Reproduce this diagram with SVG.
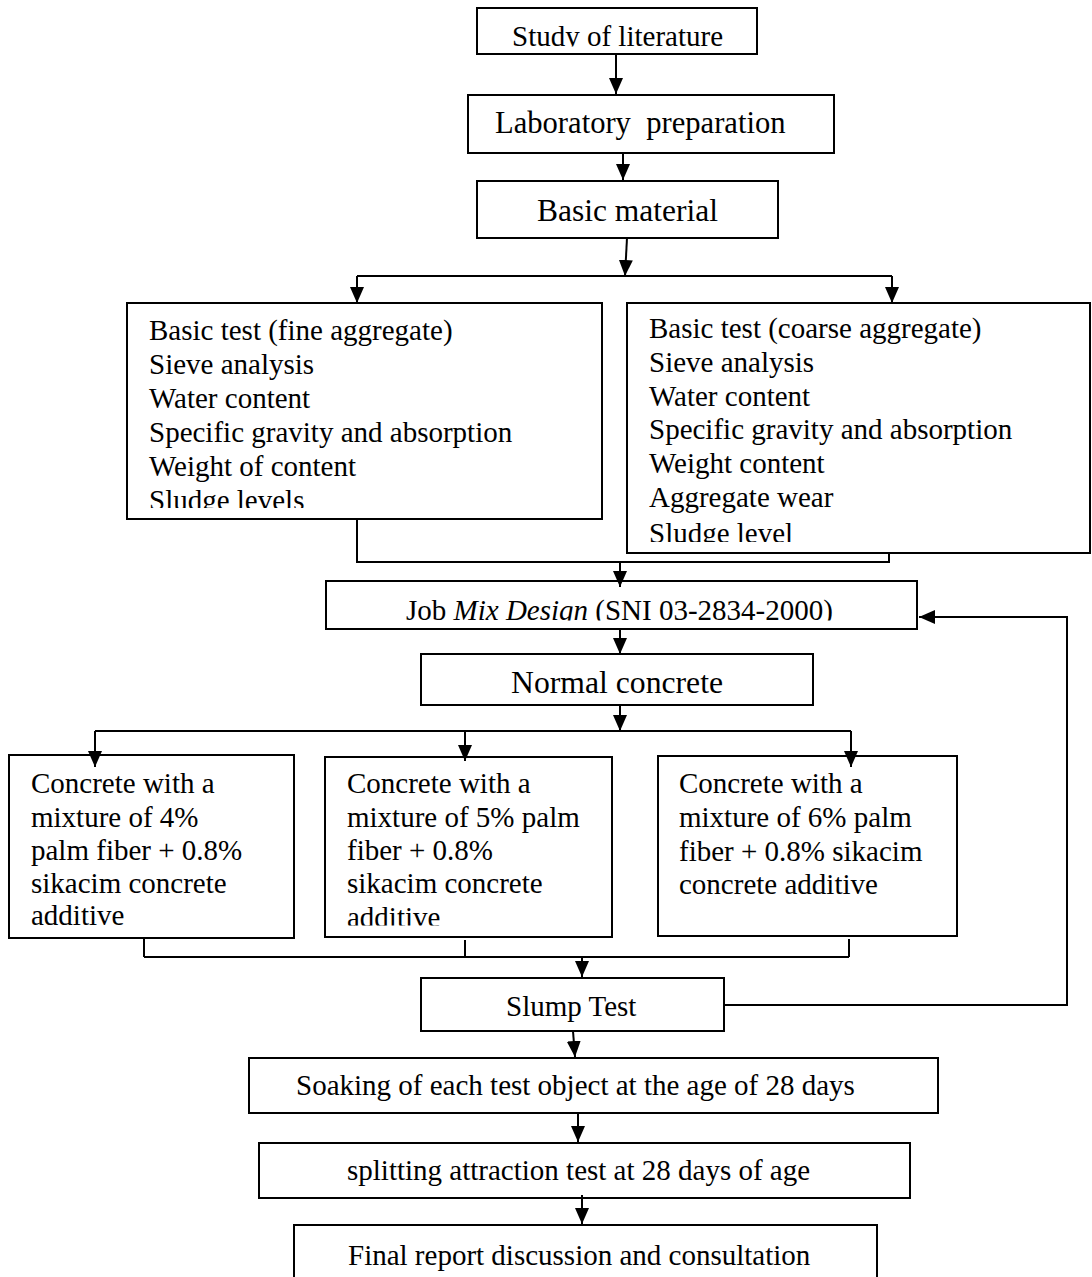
<svg xmlns="http://www.w3.org/2000/svg" width="1092" height="1277" viewBox="0 0 1092 1277">
<style>
.box{fill:#fff;stroke:#000;stroke-width:2}
.ln{fill:none;stroke:#000;stroke-width:2}
.ar{fill:none;stroke:#000;stroke-width:2;marker-end:url(#ah)}
text{font-family:"Liberation Serif","Times New Roman",serif;fill:#000;white-space:pre}
.t29{font-size:29px}
</style>
<defs>
<marker id="ah" markerUnits="userSpaceOnUse" markerWidth="17" markerHeight="14" refX="16" refY="7" orient="auto">
<path d="M0,0 L16,7 L0,14 z" fill="#000"/>
</marker>
<clipPath id="c1"><rect x="477" y="8" width="280" height="38.5"/></clipPath>
<clipPath id="c4"><rect x="127" y="303" width="475" height="205"/></clipPath>
<clipPath id="c5"><rect x="627" y="303" width="463" height="239"/></clipPath>
<clipPath id="cj"><rect x="326" y="581" width="591" height="39.5"/></clipPath>
<clipPath id="cc2"><rect x="325" y="757" width="287" height="168.5"/></clipPath>
</defs>
<rect width="1092" height="1277" fill="#fff"/>

<g id="n-study">
<rect class="box" x="477" y="8" width="280" height="46"/>
<text x="512" y="46" font-size="29" clip-path="url(#c1)">Study of literature</text>
</g>
<g id="n-lab">
<rect class="box" x="468" y="95" width="366" height="58"/>
<text x="495" y="133" font-size="30.6" xml:space="preserve">Laboratory  preparation</text>
</g>
<g id="n-basic">
<rect class="box" x="477" y="181" width="301" height="57"/>
<text x="537" y="221" font-size="31.5">Basic material</text>
</g>
<g id="n-fine">
<rect class="box" x="127" y="303" width="475" height="216"/>
<g class="t29" clip-path="url(#c4)">
<text x="149" y="340">Basic test (fine aggregate)</text>
<text x="149" y="374">Sieve analysis</text>
<text x="149" y="408">Water content</text>
<text x="149" y="442">Specific gravity and absorption</text>
<text x="149" y="476">Weight of content</text>
<text x="149" y="510">Sludge levels</text>
</g>
</g>
<g id="n-coarse">
<rect class="box" x="627" y="303" width="463" height="250"/>
<g class="t29" clip-path="url(#c5)">
<text x="649" y="338">Basic test (coarse aggregate)</text>
<text x="649" y="372">Sieve analysis</text>
<text x="649" y="406">Water content</text>
<text x="649" y="439">Specific gravity and absorption</text>
<text x="649" y="473">Weight content</text>
<text x="649" y="507">Aggregate wear</text>
<text x="649" y="543">Sludge level</text>
</g>
</g>
<g id="n-job">
<rect class="box" x="326" y="581" width="591" height="48"/>
<text x="406" y="620" class="t29" clip-path="url(#cj)">Job <tspan font-style="italic">Mix Design</tspan> (SNI 03-2834-2000)</text>
</g>
<g id="n-normal">
<rect class="box" x="421" y="654" width="392" height="51"/>
<text x="511" y="693" font-size="31.7">Normal concrete</text>
</g>
<g id="n-c4">
<rect class="box" x="9" y="755" width="285" height="183"/>
<g class="t29">
<text x="31" y="793">Concrete with a</text>
<text x="31" y="827">mixture of 4%</text>
<text x="31" y="860">palm fiber + 0.8%</text>
<text x="31" y="893">sikacim concrete</text>
<text x="31" y="925">additive</text>
</g>
</g>
<g id="n-c5">
<rect class="box" x="325" y="757" width="287" height="180"/>
<g class="t29" clip-path="url(#cc2)">
<text x="347" y="793">Concrete with a</text>
<text x="347" y="827">mixture of 5% palm</text>
<text x="347" y="860">fiber + 0.8%</text>
<text x="347" y="893">sikacim concrete</text>
<text x="347" y="927">additive</text>
</g>
</g>
<g id="n-c6">
<rect class="box" x="658" y="756" width="299" height="180"/>
<g class="t29">
<text x="679" y="793">Concrete with a</text>
<text x="679" y="827">mixture of 6% palm</text>
<text x="679" y="861">fiber + 0.8% sikacim</text>
<text x="679" y="894">concrete additive</text>
</g>
</g>
<g id="n-slump">
<rect class="box" x="421" y="978" width="303" height="53"/>
<text x="506" y="1016" class="t29">Slump Test</text>
</g>
<g id="n-soak">
<rect class="box" x="249" y="1058" width="689" height="55"/>
<text x="296" y="1095" class="t29">Soaking of each test object at the age of 28 days</text>
</g>
<g id="n-split">
<rect class="box" x="259" y="1143" width="651" height="55"/>
<text x="347" y="1180" class="t29">splitting attraction test at 28 days of age</text>
</g>
<g id="n-final">
<rect class="box" x="294" y="1225" width="583" height="80"/>
<text x="348" y="1265" class="t29">Final report discussion and consultation</text>
</g>

<g id="connectors">
<line class="ar" x1="616" y1="54" x2="616" y2="94"/>
<line class="ar" x1="623" y1="153" x2="623" y2="180"/>
<line class="ar" x1="627" y1="238" x2="625" y2="276"/>
<line class="ln" x1="357" y1="276" x2="892" y2="276"/>
<line class="ar" x1="357" y1="276" x2="357" y2="303"/>
<line class="ar" x1="892" y1="276" x2="892" y2="303"/>
<polyline class="ln" points="357,519 357,562 889,562 889,553"/>
<line class="ar" x1="620" y1="562" x2="620" y2="587"/>
<line class="ar" x1="620" y1="629" x2="620" y2="654"/>
<line class="ar" x1="620" y1="705" x2="620" y2="731"/>
<line class="ln" x1="95" y1="731" x2="851" y2="731"/>
<line class="ar" x1="95" y1="731" x2="95" y2="767"/>
<line class="ar" x1="465" y1="731" x2="465" y2="761"/>
<line class="ar" x1="851" y1="731" x2="851" y2="767"/>
<line class="ln" x1="144" y1="938" x2="144" y2="957"/>
<line class="ln" x1="465" y1="940" x2="465" y2="957"/>
<line class="ln" x1="849" y1="939" x2="849" y2="957"/>
<line class="ln" x1="144" y1="957" x2="849" y2="957"/>
<line class="ar" x1="582" y1="957" x2="582" y2="977"/>
<line class="ar" x1="573" y1="1031" x2="575" y2="1057"/>
<line class="ar" x1="578" y1="1113" x2="578" y2="1142"/>
<line class="ar" x1="582" y1="1195" x2="582" y2="1224"/>
<polyline class="ar" points="724,1005 1067,1005 1067,617 919,617"/>
</g>
</svg>
